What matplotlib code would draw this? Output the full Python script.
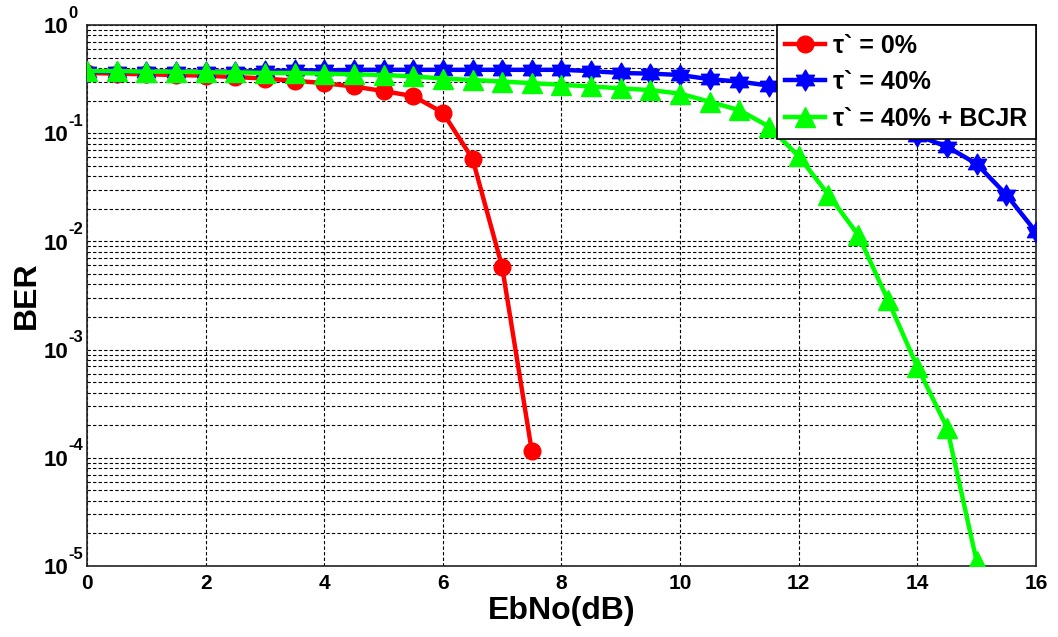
import numpy as np
import matplotlib
matplotlib.use("Agg")
import matplotlib.pyplot as plt
from matplotlib.path import Path
from matplotlib.ticker import LogLocator, NullFormatter, FixedLocator

plt.rcParams['font.family'] = ['Liberation Sans', 'DejaVu Sans']
plt.rcParams['font.weight'] = 'bold'

# Eb/No grid (dB)
ebno_a = [0, 0.5, 1, 1.5, 2, 2.5, 3, 3.5, 4, 4.5, 5, 5.5, 6, 6.5, 7, 7.5]
ebno_b = [0, 0.5, 1, 1.5, 2, 2.5, 3, 3.5, 4, 4.5, 5, 5.5, 6, 6.5, 7, 7.5,
          8, 8.5, 9, 9.5, 10, 10.5, 11, 11.5, 12, 12.5, 13, 13.5, 14, 14.5,
          15, 15.5, 16]
ebno_c = [0, 0.5, 1, 1.5, 2, 2.5, 3, 3.5, 4, 4.5, 5, 5.5, 6, 6.5, 7, 7.5,
          8, 8.5, 9, 9.5, 10, 10.5, 11, 11.5, 12, 12.5, 13, 13.5, 14, 14.5, 15]

# BER curves
ber_tau0 = [0.36, 0.355, 0.35, 0.345, 0.34, 0.33, 0.32, 0.305, 0.29, 0.27,
            0.245, 0.22, 0.155, 0.058, 0.0058, 1.15e-4]
ber_tau40 = [0.37, 0.37, 0.37, 0.37, 0.37, 0.37, 0.375, 0.38, 0.38, 0.385,
             0.385, 0.385, 0.385, 0.385, 0.385, 0.385, 0.385, 0.375, 0.36,
             0.355, 0.345, 0.315, 0.30, 0.275, 0.245, 0.21, 0.17, 0.13,
             0.095, 0.075, 0.052, 0.027, 0.0122]
ber_tau40_bcjr = [0.375, 0.375, 0.37, 0.37, 0.365, 0.365, 0.36, 0.36, 0.355,
                  0.35, 0.345, 0.335, 0.32, 0.31, 0.3, 0.29, 0.28, 0.27,
                  0.26, 0.25, 0.232, 0.195, 0.163, 0.115, 0.061, 0.027,
                  0.0115, 0.0029, 6.9e-4, 1.9e-4, 1.1e-5]

labels = ['τ` = 0%', 'τ` = 40%', 'τ` = 40% + BCJR']
x_ticks = [0, 2, 4, 6, 8, 10, 12, 14, 16]
y_exponents = [0, -1, -2, -3, -4, -5]

# six-pointed star (hexagram) marker
hexagram = Path.unit_regular_star(6, 0.577)

fig = plt.figure(figsize=(10.58, 6.37), dpi=100)
ax = fig.add_axes([0.0822, 0.1115, 0.8970, 0.8493])

ax.semilogy(ebno_a, ber_tau0, color='#ff0000', lw=3.2, marker='o', ms=12,
            label=labels[0], zorder=3)
ax.semilogy(ebno_b, ber_tau40, color='#0000ff', lw=3.2, marker=hexagram,
            ms=15, label=labels[1], zorder=4)
ax.semilogy(ebno_c, ber_tau40_bcjr, color='#00ff00', lw=3.2, marker='^',
            ms=15, label=labels[2], zorder=5)

ax.set_xlim(0, 16)
ax.set_ylim(1e-5, 1)
ax.xaxis.set_major_locator(FixedLocator(x_ticks))
ax.set_xticklabels([str(v) for v in x_ticks], fontsize=15, fontweight='bold')
ax.set_yticks([10.0 ** e for e in y_exponents])
ax.yaxis.set_minor_locator(LogLocator(base=10, subs=np.arange(2, 10), numticks=20))
ax.yaxis.set_minor_formatter(NullFormatter())
ax.set_yticklabels([''] * len(y_exponents))

# decade labels: "10" with a raised exponent (hyphen-minus, as printed)
ytrans = ax.get_yaxis_transform()
for e in y_exponents:
    ax.annotate('10', xy=(0, 10.0 ** e), xycoords=ytrans,
                xytext=(-13.5, -2), textcoords='offset points',
                ha='right', va='center', fontsize=16, fontweight='bold',
                annotation_clip=False)
    ax.annotate(str(e), xy=(0, 10.0 ** e), xycoords=ytrans,
                xytext=(-13.5, 8.5), textcoords='offset points',
                ha='left', va='center', fontsize=12, fontweight='bold',
                annotation_clip=False)

ax.grid(True, which='major', axis='both', color='black', ls=(0, (3, 2)), lw=0.8)
ax.grid(True, which='minor', axis='y', color='black', ls=(0, (3, 2)), lw=0.8)
ax.tick_params(which='both', direction='in', length=0, pad=6)
for s in ax.spines.values():
    s.set_linewidth(1.2)
    s.set_color('#222222')

ax.set_xlabel('EbNo(dB)', fontsize=23, fontweight='bold', labelpad=2)
ax.set_ylabel('BER', fontsize=23, fontweight='bold')
ax.yaxis.set_label_coords(-0.047, 0.5)

leg = ax.legend(loc='upper right', borderaxespad=0,
                prop={'weight': 'bold', 'size': 18}, fancybox=False,
                edgecolor='black', framealpha=1, handlelength=1.6,
                handletextpad=0.3, borderpad=0.35, labelspacing=0.5)
leg.get_frame().set_linewidth(1.2)
leg.set_zorder(10)

fig.savefig('out.png', dpi=100)
